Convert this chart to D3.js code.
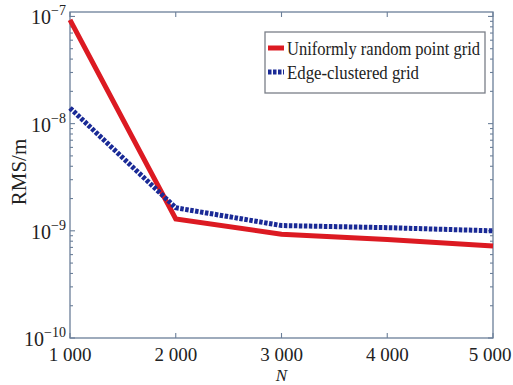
<!DOCTYPE html>
<html><head><meta charset="utf-8">
<script src="https://cdn.jsdelivr.net/npm/d3@7/dist/d3.min.js"></script>
<style>body{margin:0;background:#fff}svg{display:block}text{font-family:"Liberation Serif","Times New Roman",serif;fill:#222}</style>
</head><body>
<script>
const nValues = [1000, 2000, 3000, 4000, 5000];
const uniformRms = [9.3e-8, 1.29e-9, 0.93e-9, 0.83e-9, 0.72e-9];
const edgeRms = [1.4e-8, 1.64e-9, 1.12e-9, 1.07e-9, 1.0e-9];
const xTickValues = [1000, 2000, 3000, 4000, 5000];
const xTickLabels = ["1 000", "2 000", "3 000", "4 000", "5 000"];
const yTickExponents = [-10, -9, -8, -7];
const seriesNames = ["Uniformly random point grid", "Edge-clustered grid"];

const W = 513, H = 385;
const m = {l: 70, r: 20, t: 12, b: 47};
const svg = d3.select("body").append("svg").attr("width", W).attr("height", H);
const x = d3.scaleLinear().domain([1000, 5000]).range([m.l, W - m.r]);
const y = d3.scaleLog().domain([1e-10, 1.1e-7]).range([H - m.b, m.t]);
const axisCol = "#6b7f99";

const allTicks = y.ticks().filter(v => v >= 1e-10 && v <= 1.1e-7);
const isMajor = v => Math.abs(Math.log10(v) - Math.round(Math.log10(v))) < 1e-6;

const g = svg.append("g");
g.append("rect").attr("x", m.l).attr("y", m.t).attr("width", W - m.r - m.l).attr("height", H - m.b - m.t)
  .attr("fill", "none").attr("stroke", axisCol).attr("stroke-width", 1.3);

allTicks.forEach(v => {
  const len = isMajor(v) ? 5 : 3;
  const yy = y(v);
  g.append("line").attr("x1", m.l).attr("x2", m.l + len).attr("y1", yy).attr("y2", yy).attr("stroke", axisCol).attr("stroke-width", 1.1);
  g.append("line").attr("x1", W - m.r).attr("x2", W - m.r - len).attr("y1", yy).attr("y2", yy).attr("stroke", axisCol).attr("stroke-width", 1.1);
});
xTickValues.forEach(v => {
  const xx = x(v);
  g.append("line").attr("x1", xx).attr("x2", xx).attr("y1", H - m.b).attr("y2", H - m.b - 5).attr("stroke", axisCol).attr("stroke-width", 1.1);
  g.append("line").attr("x1", xx).attr("x2", xx).attr("y1", m.t).attr("y2", m.t + 5).attr("stroke", axisCol).attr("stroke-width", 1.1);
});
xTickValues.forEach((v, i) => {
  g.append("text").attr("x", x(v) - (i === xTickValues.length - 1 ? 3 : 0)).attr("y", H - m.b + 23).attr("text-anchor", "middle")
    .attr("font-size", 19).text(xTickLabels[i]);
});
yTickExponents.forEach(e => {
  const t = g.append("text").attr("x", m.l - 4).attr("y", y(Math.pow(10, e)) + 8).attr("text-anchor", "end").attr("font-size", 20);
  t.append("tspan").text("10");
  t.append("tspan").attr("font-size", 14).attr("dy", -9).text("\u2212" + Math.abs(e));
});
svg.append("text").attr("transform", `translate(26,${(m.t + H - m.b) / 2 - 3}) rotate(-90)`)
  .attr("text-anchor", "middle").attr("font-size", 21).text("RMS/m");
svg.append("text").attr("x", x(3000)).attr("y", 381).attr("text-anchor", "middle")
  .attr("font-size", 17).attr("font-style", "italic").text("N");

const line = d3.line().x((d, i) => x(nValues[i])).y(d => y(d));
const red = "#dc1a22", blue = "#1a2a96";
svg.append("path").datum(uniformRms).attr("d", line).attr("fill", "none").attr("stroke", red).attr("stroke-width", 5);
svg.append("path").datum(edgeRms).attr("d", line).attr("fill", "none").attr("stroke", blue).attr("stroke-width", 5).attr("stroke-dasharray", "3.5,1.5");

const lg = svg.append("g");
lg.append("rect").attr("x", 265).attr("y", 32).attr("width", 220).attr("height", 61)
  .attr("fill", "#fff").attr("stroke", "#7a7f88").attr("stroke-width", 1.3);
const legendRows = [{c: red, dash: null, yy: 48}, {c: blue, dash: "3.5,1.5", yy: 72}];
legendRows.forEach((r, i) => {
  lg.append("line").attr("x1", 268).attr("x2", 284).attr("y1", r.yy).attr("y2", r.yy)
    .attr("stroke", r.c).attr("stroke-width", 5).attr("stroke-dasharray", r.dash);
  lg.append("text").attr("x", 287).attr("y", r.yy + 7).attr("font-size", 19)
    .attr("textLength", i === 0 ? 193 : 132).attr("lengthAdjust", "spacingAndGlyphs").text(seriesNames[i]);
});
</script>
</body></html>
